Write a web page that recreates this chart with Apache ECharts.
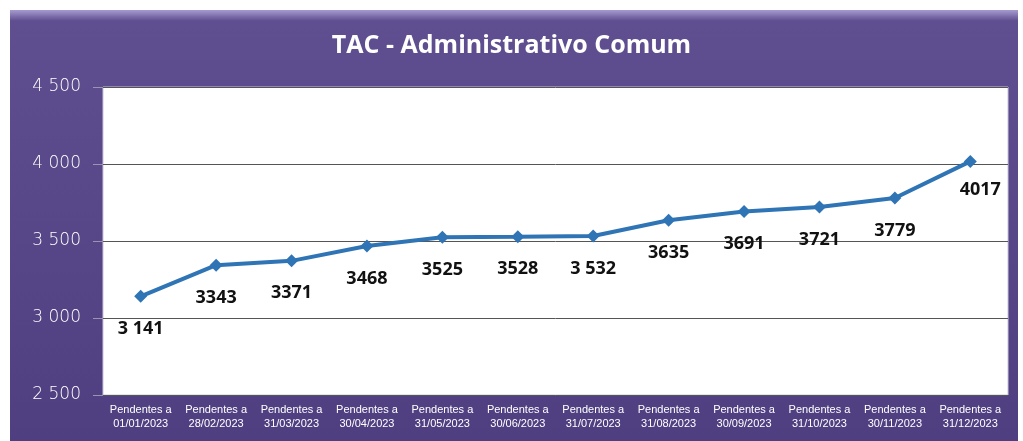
<!DOCTYPE html>
<html>
<head>
<meta charset="utf-8">
<script src="https://cdn.jsdelivr.net/npm/echarts@6/dist/echarts.min.js"></script>
<style>
  html, body { margin: 0; padding: 0; background: #fff; }
  #chart { width: 1023px; height: 441px; }
</style>
</head>
<body>
<div id="chart"></div>
<script>
  // data
  var categories = [
    'Pendentes a\n01/01/2023', 'Pendentes a\n28/02/2023', 'Pendentes a\n31/03/2023',
    'Pendentes a\n30/04/2023', 'Pendentes a\n31/05/2023', 'Pendentes a\n30/06/2023',
    'Pendentes a\n31/07/2023', 'Pendentes a\n31/08/2023', 'Pendentes a\n30/09/2023',
    'Pendentes a\n31/10/2023', 'Pendentes a\n30/11/2023', 'Pendentes a\n31/12/2023'
  ]
  var pendentes = [3141, 3343, 3371, 3468, 3525, 3528, 3532, 3635, 3691, 3721, 3779, 4017]
  var pointLabels = ['3 141', '3343', '3371', '3468', '3525', '3528', '3 532', '3635', '3691', '3721', '3779', '4017']

  var chart = echarts.init(document.getElementById('chart'))

  var seriesData = pendentes.map(function (v, i) {
    var item = {value: v}
    if (i === pendentes.length - 1) {
      item.label = {offset: [10, -4]}
    }
    return item
  })

  chart.setOption({
    backgroundColor: '#fff',
    graphic: [
      {
        type: 'rect',
        z: -10,
        shape: {x: 10, y: 10, width: 1008, height: 431},
        style: {
          fill: new echarts.graphic.LinearGradient(0, 0, 0, 1, [
            {offset: 0, color: '#a79ad0'},
            {offset: 0.025, color: '#5f4f90'},
            {offset: 1, color: '#4f3f80'}
          ])
        }
      }
    ],
    title: {
      text: 'TAC - Administrativo Comum',
      left: 'center',
      top: 28,
      textStyle: {
        color: '#fff',
        fontFamily: 'Open Sans',
        fontWeight: 'bold',
        fontSize: 25
      }
    },
    grid: {
      left: 103,
      right: 15,
      top: 87,
      bottom: 46,
      show: true,
      backgroundColor: '#fff',
      borderColor: '#c8c4d8',
      borderWidth: 1
    },
    xAxis: {
      type: 'category',
      data: categories,
      boundaryGap: true,
      axisLine: {show: false},
      axisTick: {show: false},
      axisLabel: {
        color: '#fff',
        fontSize: 11,
        lineHeight: 14,
        margin: 8,
        interval: 0,
        fontFamily: 'Liberation Sans'
      }
    },
    yAxis: {
      type: 'value',
      min: 2500,
      max: 4500,
      interval: 500,
      axisLine: {show: false},
      axisTick: {show: true, length: 10, lineStyle: {color: '#9a94b0'}},
      axisLabel: {
        color: '#fff',
        fontSize: 17,
        margin: 22,
        fontFamily: 'DejaVu Sans',
        fontWeight: 'lighter',
        formatter: function (v) {
          return String(v).replace(/\B(?=(\d{3})+(?!\d))/g, ' ')
        }
      },
      splitLine: {lineStyle: {color: '#555', width: 1}}
    },
    series: [
      {
        type: 'line',
        data: seriesData,
        symbol: 'diamond',
        symbolSize: 13,
        lineStyle: {color: '#2f74b5', width: 4},
        itemStyle: {color: '#2f74b5'},
        label: {
          show: true,
          position: 'bottom',
          distance: 17,
          color: '#111',
          fontSize: 18,
          fontWeight: 'bold',
          fontFamily: 'Open Sans',
          formatter: function (p) {
            return pointLabels[p.dataIndex]
          }
        }
      }
    ]
  })
</script>
</body>
</html>
